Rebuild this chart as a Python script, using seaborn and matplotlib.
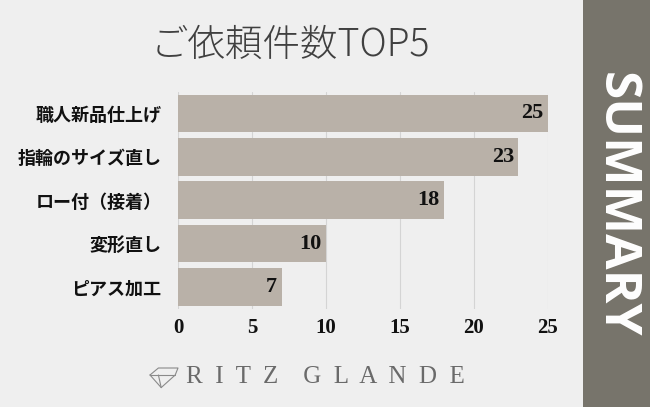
import matplotlib.pyplot as plt
import matplotlib.patches as mpatches
import seaborn as sns
import pandas as pd

# data
services = ['職人新品仕上げ', '指輪のサイズ直し', 'ロー付（接着）', '変形直し', 'ピアス加工']
counts = [25, 23, 18, 10, 7]
ticks = [0, 5, 10, 15, 20, 25]

df = pd.DataFrame({'service': services, 'count': counts})

sns.set_style('white')
plt.rcParams['font.family'] = ['Noto Sans CJK JP', 'DejaVu Sans']

bg = '#efefef'
serif = ['Liberation Serif', 'DejaVu Serif']
fig = plt.figure(figsize=(6.5, 4.07), dpi=100, facecolor=bg)

# right-hand side strip
fig.patches.append(mpatches.Rectangle((583 / 650, 0), 67 / 650, 1, transform=fig.transFigure,
                                      facecolor='#77746b', edgecolor='none', zorder=0))
fig.text(616 / 650, 1 - 205 / 407, 'S U M M A R Y'.replace(' ', ''), rotation=-90,
         ha='center', va='center', color='white', fontsize=37, fontweight='bold',
         family=['Open Sans', 'DejaVu Sans'])

ax = fig.add_axes([178 / 650, 1 - 308.7 / 407, 370 / 650, 217 / 407])
ax.set_facecolor('none')
sns.barplot(data=df, x='count', y='service', color='#b9b1a8', saturation=1, width=0.87,
            linewidth=0, ax=ax, zorder=2)
ax.set_xlim(0, 25)
ax.set_ylim(4.5, -0.5)
ax.set_xticks(ticks)
ax.grid(axis='x', color='#d4d4d4', linewidth=0.8, zorder=0)
ax.set_axisbelow(True)
for s in ax.spines.values():
    s.set_visible(False)
ax.set(xlabel='', ylabel='')
ax.tick_params(axis='y', length=0, pad=12, labelsize=13)
ax.tick_params(axis='x', length=0, pad=7)
for lab in ax.get_yticklabels():
    lab.set_fontweight('bold')
    lab.set_color('#111111')
for lab in ax.get_xticklabels():
    lab.set_fontweight('bold')
    lab.set_fontsize(15)
    lab.set_family(serif)
    lab.set_color('#111111')

for bar, c in zip(ax.patches, counts):
    ax.text(bar.get_width() - 0.3, bar.get_y() + bar.get_height() / 2, str(c),
            ha='right', va='center', fontsize=16, color='#111111', fontweight='bold',
            family=serif, zorder=3)

fig.text(290 / 650, 1 - 45 / 407, 'ご依頼件数TOP5', ha='center', va='center',
         fontsize=27, color='#404040', family=['Noto Sans CJK JP', 'DejaVu Sans'],
         fontweight='light')

# logo
fig.text(325 / 650, 1 - 377 / 407, 'R  I  T  Z    G  L  A  N  D  E', ha='center', va='center',
         fontsize=18, color='#6a6a6a', family=serif)
dx, dy = 150 / 650, 1 - 375 / 407
w, h = 28 / 650, 14 / 407
gem = [(dx, dy), (dx + w * 0.3, dy + h * 0.5), (dx + w, dy + h * 0.5), (dx + w * 0.9, dy),
       (dx + w * 0.4, dy - h * 0.9), (dx, dy)]
fig.lines.append(plt.Line2D([p[0] for p in gem], [p[1] for p in gem], transform=fig.transFigure,
                            color='#8a8a8a', linewidth=0.8))
fig.lines.append(plt.Line2D([dx, dx + w * 0.9], [dy, dy], transform=fig.transFigure,
                            color='#8a8a8a', linewidth=0.8))
fig.lines.append(plt.Line2D([dx + w * 0.3, dx + w * 0.4], [dy, dy - h * 0.9],
                            transform=fig.transFigure, color='#8a8a8a', linewidth=0.8))

fig.savefig('out.png', dpi=100, facecolor=bg)
